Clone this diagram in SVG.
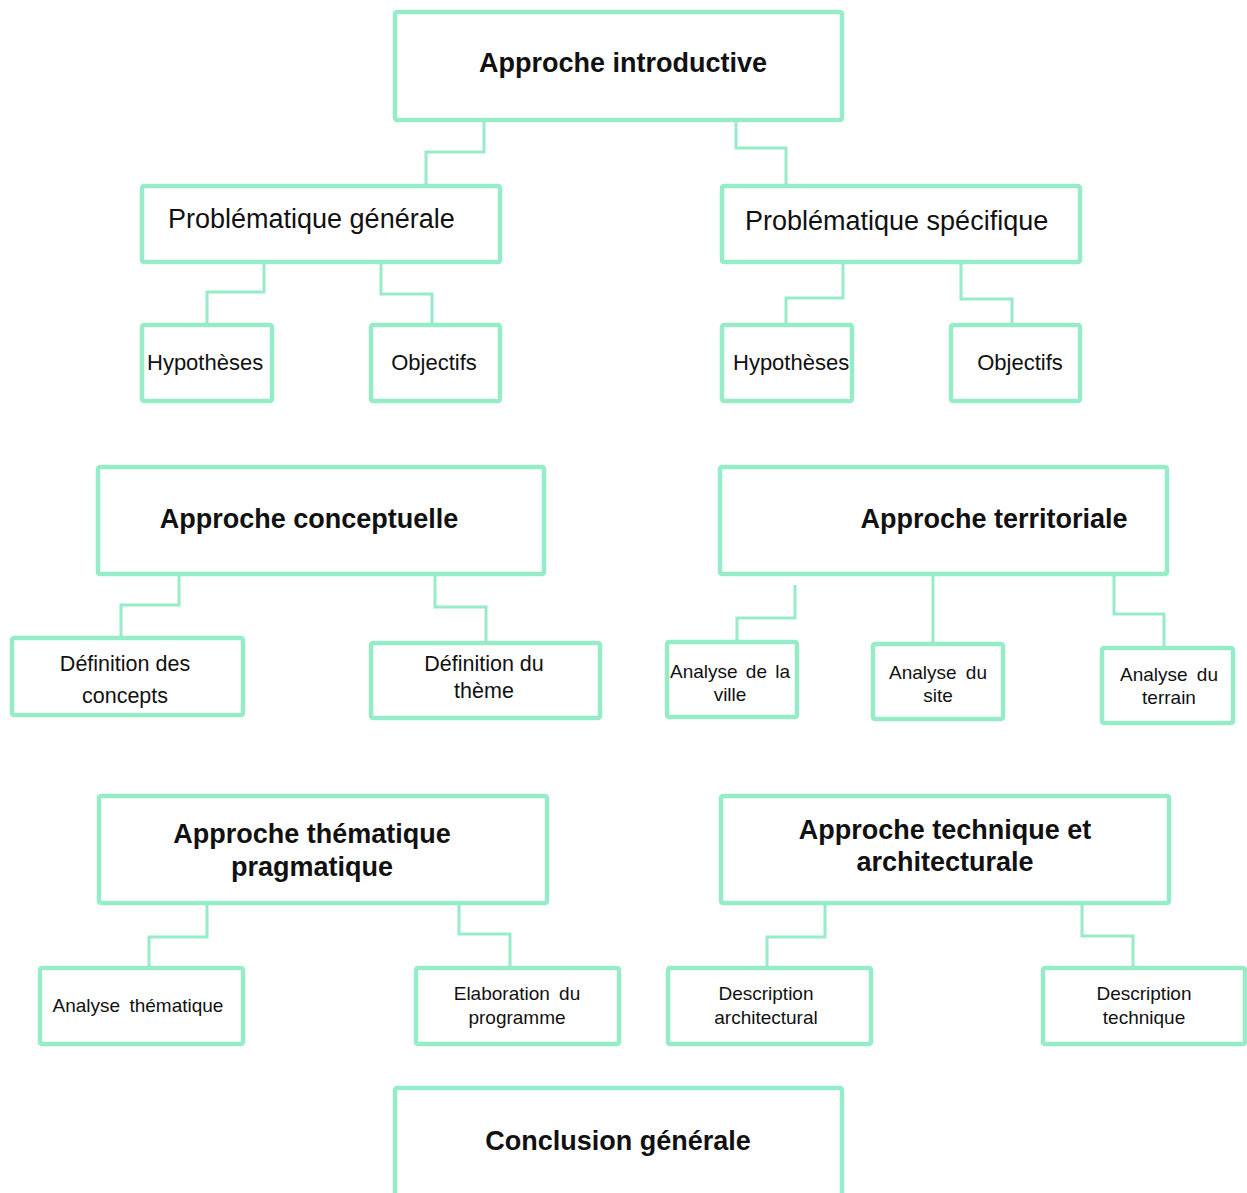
<svg xmlns="http://www.w3.org/2000/svg" width="1247" height="1193" viewBox="0 0 1247 1193">
<style>
.box{fill:#fff;stroke:#97ECC8;stroke-width:4.5}
.c{fill:none;stroke:#97ECC8;stroke-width:3}
text{font-family:"Liberation Sans",Arial,sans-serif;fill:#111}
.b{font-weight:bold;font-size:27px}
.r27{font-size:27px}
.r22{font-size:22px}
.r21{font-size:21.5px}
.r19{font-size:19px}
.m{text-anchor:middle}
</style>
<rect width="1247" height="1193" fill="#fff"/>
<g id="connectors">
<polyline class="c" points="484,120 484,152 426,152 426,186"/>
<polyline class="c" points="736,114 736,148 786,148 786,186"/>
<polyline class="c" points="264,262 264,292 207,292 207,325"/>
<polyline class="c" points="381,262 381,294 432,294 432,328"/>
<polyline class="c" points="843,262 843,298 786,298 786,330"/>
<polyline class="c" points="961,262 961,299 1012,299 1012,333"/>
<polyline class="c" points="179,574 179,605 121,605 121,638"/>
<polyline class="c" points="435,574 435,607 486,607 486,643"/>
<polyline class="c" points="795,585 795,618 737,618 737,652"/>
<polyline class="c" points="933,574 933,644"/>
<polyline class="c" points="1114,574 1114,614 1164,614 1164,648"/>
<polyline class="c" points="207,903 207,937 149,937 149,972"/>
<polyline class="c" points="459,900 459,934 510,934 510,968"/>
<polyline class="c" points="825,903 825,937 767,937 767,972"/>
<polyline class="c" points="1082,903 1082,936 1133,936 1133,968"/>
</g>
<g id="n-intro"><rect class="box" x="395" y="12" width="447" height="108" rx="2"/><text class="b m" x="623" y="72">Approche introductive</text></g>
<g id="n-pg"><rect class="box" x="142" y="186" width="358" height="76" rx="2"/><text class="r27" x="168" y="228">Problématique générale</text></g>
<g id="n-ps"><rect class="box" x="722" y="186" width="358" height="76" rx="2"/><text class="r27" x="745" y="230">Problématique spécifique</text></g>
<g id="n-hyp1"><rect class="box" x="142" y="325" width="130" height="76" rx="2"/><text class="r22" x="147" y="370">Hypothèses</text></g>
<g id="n-obj1"><rect class="box" x="371" y="325" width="129" height="76" rx="2"/><text class="r22 m" x="434" y="370">Objectifs</text></g>
<g id="n-hyp2"><rect class="box" x="722" y="325" width="130" height="76" rx="2"/><text class="r22" x="733" y="370">Hypothèses</text></g>
<g id="n-obj2"><rect class="box" x="951" y="325" width="129" height="76" rx="2"/><text class="r22 m" x="1020" y="370">Objectifs</text></g>
<g id="n-ac"><rect class="box" x="98" y="467" width="446" height="107" rx="2"/><text class="b m" x="309" y="528">Approche conceptuelle</text></g>
<g id="n-at"><rect class="box" x="720" y="467" width="447" height="107" rx="2"/><text class="b m" x="994" y="528">Approche territoriale</text></g>
<g id="n-dc"><rect class="box" x="12" y="638" width="231" height="77" rx="2"/><text class="r21 m" x="125" y="671">Définition des</text><text class="r21 m" x="125" y="703">concepts</text></g>
<g id="n-dt"><rect class="box" x="371" y="643" width="229" height="75" rx="2"/><text class="r21 m" x="484" y="671">Définition du</text><text class="r21 m" x="484" y="698">thème</text></g>
<g id="n-av"><rect class="box" x="667" y="642" width="130" height="75" rx="2"/><text class="r19 m" x="730" y="678" word-spacing="3">Analyse de la</text><text class="r19 m" x="730" y="701">ville</text></g>
<g id="n-as"><rect class="box" x="873" y="644" width="130" height="75" rx="2"/><text class="r19 m" x="938" y="679" word-spacing="4">Analyse du</text><text class="r19 m" x="938" y="702">site</text></g>
<g id="n-ater"><rect class="box" x="1102" y="648" width="131" height="75" rx="2"/><text class="r19 m" x="1169" y="681" word-spacing="4">Analyse du</text><text class="r19 m" x="1169" y="704">terrain</text></g>
<g id="n-atp"><rect class="box" x="99" y="796" width="448" height="107" rx="2"/><text class="b m" x="312" y="843">Approche thématique</text><text class="b m" x="312" y="876">pragmatique</text></g>
<g id="n-ata"><rect class="box" x="721" y="796" width="448" height="107" rx="2"/><text class="b m" x="945" y="839">Approche technique et</text><text class="b m" x="945" y="871">architecturale</text></g>
<g id="n-ath"><rect class="box" x="40" y="968" width="203" height="76" rx="2"/><text class="r19 m" x="138" y="1012" word-spacing="4">Analyse thématique</text></g>
<g id="n-ep"><rect class="box" x="416" y="968" width="203" height="76" rx="2"/><text class="r19 m" x="517" y="1000" word-spacing="4">Elaboration du</text><text class="r19 m" x="517" y="1024">programme</text></g>
<g id="n-da"><rect class="box" x="668" y="968" width="203" height="76" rx="2"/><text class="r19 m" x="766" y="1000">Description</text><text class="r19 m" x="766" y="1024">architectural</text></g>
<g id="n-dte"><rect class="box" x="1043" y="968" width="202" height="76" rx="2"/><text class="r19 m" x="1144" y="1000">Description</text><text class="r19 m" x="1144" y="1024">technique</text></g>
<g id="n-cg"><rect class="box" x="395" y="1088" width="447" height="110" rx="2"/><text class="b m" x="618" y="1150">Conclusion générale</text></g>
</svg>
